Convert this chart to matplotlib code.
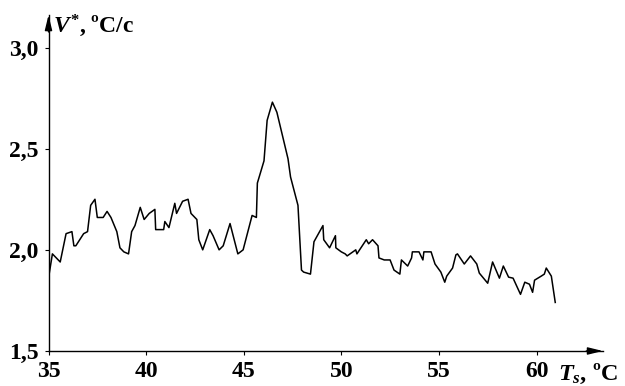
import matplotlib
matplotlib.use("Agg")
import matplotlib.pyplot as plt
from matplotlib.ticker import FuncFormatter

plt.rcParams['font.family'] = 'Liberation Serif'
plt.rcParams['font.weight'] = 'bold'
plt.rcParams['mathtext.fontset'] = 'custom'
plt.rcParams['mathtext.it'] = 'Liberation Serif:italic:bold'
plt.rcParams['mathtext.rm'] = 'Liberation Serif:bold'

# temperature Ts, degC
ts = [35.0, 35.2, 35.6, 35.9, 36.2, 36.3, 36.4, 36.8, 37.0, 37.16, 37.38, 37.5,
      37.8, 38.0, 38.2, 38.5, 38.66, 38.86, 39.1, 39.26, 39.43, 39.7, 39.9, 40.16,
      40.45, 40.49, 40.9, 40.96, 41.17, 41.47, 41.56, 41.87, 42.15, 42.3, 42.6,
      42.7, 42.9, 43.26, 43.43, 43.74, 43.95, 44.3, 44.7, 44.97, 45.43, 45.65,
      45.7, 46.04, 46.2, 46.47, 46.7, 47.27, 47.4, 47.78, 47.96, 48.07, 48.42,
      48.6, 49.06, 49.1, 49.4, 49.7, 49.72, 50.0, 50.2, 50.3, 50.74, 50.8, 51.28,
      51.4, 51.6, 51.88, 51.93, 52.2, 52.5, 52.7, 53.0, 53.08, 53.4, 53.6, 53.64,
      53.98, 54.18, 54.23, 54.6, 54.8, 55.1, 55.3, 55.4, 55.7, 55.87, 55.95, 56.3,
      56.62, 56.94, 57.07, 57.5, 57.75, 58.1, 58.3, 58.57, 58.8, 59.18, 59.4,
      59.64, 59.8, 59.9, 60.24, 60.4, 60.5, 60.76, 60.96]
# heating rate V*, degC/s
v = [1.86, 1.98, 1.94, 2.08, 2.09, 2.02, 2.02, 2.08, 2.09, 2.22, 2.25, 2.16,
     2.16, 2.19, 2.16, 2.09, 2.01, 1.99, 1.98, 2.09, 2.12, 2.21, 2.15, 2.18,
     2.20, 2.10, 2.10, 2.14, 2.11, 2.23, 2.18, 2.24, 2.25, 2.18, 2.15,
     2.05, 2.00, 2.10, 2.07, 2.00, 2.02, 2.13, 1.98, 2.00, 2.17, 2.16,
     2.33, 2.44, 2.64, 2.73, 2.68, 2.45, 2.36, 2.22, 1.90, 1.89, 1.88,
     2.04, 2.12, 2.05, 2.01, 2.07, 2.01, 1.99, 1.98, 1.97, 2.00, 1.98, 2.05,
     2.03, 2.05, 2.02, 1.96, 1.95, 1.95, 1.90, 1.88, 1.95, 1.92, 1.96, 1.99,
     1.99, 1.95, 1.99, 1.99, 1.93, 1.89, 1.84, 1.87, 1.91, 1.975, 1.98, 1.93,
     1.97, 1.93, 1.885, 1.835, 1.94, 1.86, 1.92, 1.865, 1.86, 1.78, 1.84,
     1.83, 1.79, 1.85, 1.87, 1.88, 1.91, 1.87, 1.74]

xticks = [35, 40, 45, 50, 55, 60]
yticks = [1.5, 2.0, 2.5, 3.0]

fig = plt.figure(figsize=(6.25, 3.86), dpi=100)
ax = fig.add_axes([0.0776, 0.0907, 0.887, 0.870])
ax.plot(ts, v, color='black', lw=1.1)

ax.set_xlim(35, 63.4)
ax.set_ylim(1.5, 3.16)
ax.set_xticks(xticks)
ax.set_yticks(yticks)
ax.yaxis.set_major_formatter(FuncFormatter(lambda y, p: f"{y:.1f}".replace('.', ',')))
ax.tick_params(labelsize=17, length=3, width=0.8, direction='out', pad=4)
for lbl in ax.get_xticklabels() + ax.get_yticklabels():
    lbl.set_fontweight('bold')

ax.spines['top'].set_visible(False)
ax.spines['right'].set_visible(False)
ax.spines['left'].set_linewidth(1.0)
ax.spines['bottom'].set_linewidth(1.0)

# slim arrowheads at the axis ends
arrow = dict(arrowstyle='-|>,head_length=0.9,head_width=0.22', color='k', lw=1.0,
             shrinkA=0, shrinkB=0)
ax.annotate('', xy=(1.0, 0), xytext=(0.97, 0), xycoords='axes fraction',
            arrowprops=arrow, annotation_clip=False)
ax.annotate('', xy=(0, 1.0), xytext=(0, 0.95), xycoords='axes fraction',
            arrowprops=arrow, annotation_clip=False)

fig.text(0.085, 0.915, r'$V^{*}$, ºC/c', fontsize=17, fontweight='bold')
fig.text(0.893, 0.015, r'$T_{s}$, ºC', fontsize=17.5, fontweight='bold')

fig.savefig('out.png', dpi=100)
